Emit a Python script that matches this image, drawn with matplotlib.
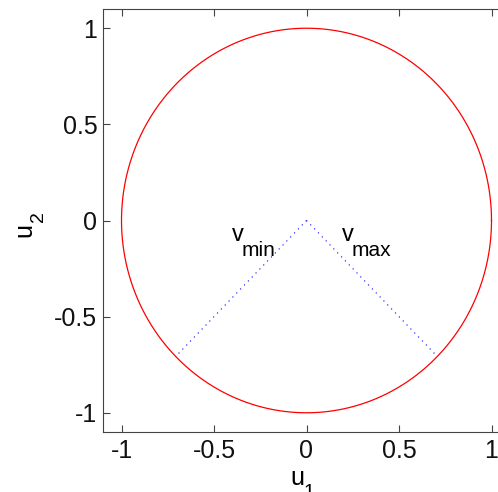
import numpy as np
import matplotlib
matplotlib.use("Agg")
import matplotlib.pyplot as plt

plt.rcParams['font.family'] = ['Liberation Sans', 'DejaVu Sans']

# data
circle_radius = 1.0
v_min_angle_deg = 225
v_max_angle_deg = 315
x_ticks = [-1, -0.5, 0, 0.5, 1]
y_ticks = [-1, -0.5, 0, 0.5, 1]
x_tick_labels = ['-1', '-0.5', '0', '0.5', '1']
y_tick_labels = ['-1', '-0.5', '0', '0.5', '1']

W, H = 498, 492
fig = plt.figure(figsize=(W / 100, H / 100), dpi=100)
ax = fig.add_axes([103 / W, 1 - 432 / H, 407 / W, 423 / H])


def px_text(x, y, s, size, **kw):
    # place text by pixel position measured from the top-left corner
    fig.text(x / W, 1 - y / H, s, fontsize=size, ha='left', va='baseline',
             rotation_mode='anchor', **kw)


# unit circle
t = np.linspace(0, 2 * np.pi, 400)
ax.plot(circle_radius * np.cos(t), circle_radius * np.sin(t), color='red', linewidth=0.9)

# dotted directions
for ang in (v_min_angle_deg, v_max_angle_deg):
    a = np.deg2rad(ang)
    ax.plot([0, circle_radius * np.cos(a)], [0, circle_radius * np.sin(a)],
            color='blue', linestyle=(0, (1, 4)), linewidth=0.8)

# v labels
px_text(232, 241, 'v', 17)
px_text(242, 256, 'min', 15)
px_text(342, 241, 'v', 17)
px_text(352, 256, 'max', 15)

ax.set_xlim(-1.1, 1.1)
ax.set_ylim(-1.1, 1.1)
ax.set_xticks(x_ticks)
ax.set_xticklabels(x_tick_labels)
ax.set_yticks(y_ticks)
ax.set_yticklabels(y_tick_labels)
ax.tick_params(direction='in', length=5, width=0.8, labelsize=18, color='#444444',
               labelcolor='#111111', top=True, right=True)
ax.tick_params(axis='x', pad=5)
ax.tick_params(axis='y', pad=4)
for s in ax.spines.values():
    s.set_color('#444444')
    s.set_linewidth(0.8)

# axis labels
px_text(290, 485, 'u', 18)
px_text(303, 497, '1', 14)
px_text(31, 237, 'u', 18, rotation=90)
px_text(43, 222, '2', 14, rotation=90)

fig.savefig('out.png', dpi=100)
